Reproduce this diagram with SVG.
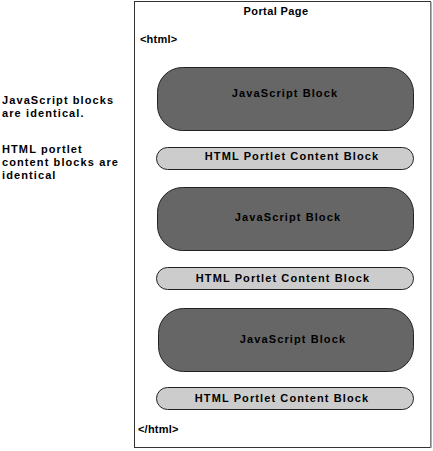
<svg xmlns="http://www.w3.org/2000/svg" width="433" height="451" viewBox="0 0 433 451">
<style>
text{font-family:"Liberation Sans",Arial,sans-serif;font-weight:bold;font-size:11px;fill:#000}
.js{fill:#666666;stroke:#222;stroke-width:1}
.ht{fill:#cccccc;stroke:#222;stroke-width:1}
.sp{letter-spacing:1.1px}
.c{text-anchor:middle}
</style>
<rect width="433" height="451" fill="#fff"/>
<g id="notes">
<text x="2" y="104" class="sp">JavaScript blocks</text>
<text x="2" y="117" class="sp">are identical.</text>
<text x="2" y="153" class="sp">HTML portlet</text>
<text x="2" y="166" class="sp">content blocks are</text>
<text x="2" y="179" class="sp">identical</text>
</g>
<g id="portal-page">
<rect x="134.5" y="1.5" width="296" height="446" fill="#fff" stroke="#333" stroke-width="1"/>
<line x1="431" y1="2" x2="431" y2="448" stroke="#999" stroke-width="1.5"/>
<text x="276" y="15" class="c" style="letter-spacing:0.4px">Portal Page</text>
<text x="140" y="43" style="letter-spacing:0.2px">&lt;html&gt;</text>
<text x="138" y="433" style="letter-spacing:0.2px">&lt;/html&gt;</text>
</g>
<g id="js1">
<rect class="js" x="157.5" y="67.5" width="256" height="63" rx="25" ry="25"/>
<text x="285" y="97" class="c sp">JavaScript Block</text>
</g>
<g id="html1">
<rect class="ht" x="156.5" y="147.5" width="257" height="22" rx="11" ry="11"/>
<text x="292" y="159.5" class="c sp">HTML Portlet Content Block</text>
</g>
<g id="js2">
<rect class="js" x="157.5" y="187.5" width="256" height="63" rx="25" ry="25"/>
<text x="288" y="221" class="c sp">JavaScript Block</text>
</g>
<g id="html2">
<rect class="ht" x="156.5" y="267.5" width="257" height="22" rx="11" ry="11"/>
<text x="283" y="282" class="c sp">HTML Portlet Content Block</text>
</g>
<g id="js3">
<rect class="js" x="158.5" y="308.5" width="255" height="63" rx="25" ry="25"/>
<text x="293" y="343" class="c sp">JavaScript Block</text>
</g>
<g id="html3">
<rect class="ht" x="156.5" y="387.5" width="257" height="22" rx="11" ry="11"/>
<text x="282" y="402" class="c sp">HTML Portlet Content Block</text>
</g>
<g id="connectors"></g>
</svg>
